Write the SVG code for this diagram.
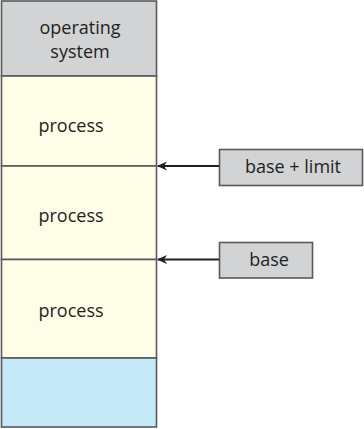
<svg xmlns="http://www.w3.org/2000/svg" width="364" height="429" viewBox="0 0 364 429">
<style>
.blk{stroke:#58595b;stroke-width:1.6}
.t{font-family:"Open Sans","Liberation Sans",sans-serif;font-size:18px;fill:#231f20;text-anchor:middle}
.conn{stroke:#231f20;stroke-width:2;fill:none}
</style>
<defs>
<marker id="ah" viewBox="0 0 10 10" refX="9" refY="5" markerWidth="10" markerHeight="10" markerUnits="userSpaceOnUse" orient="auto">
<path d="M10,5 L0,0.5 L3,5 L0,9.5 Z" fill="#231f20"/>
</marker>
</defs>
<rect x="0" y="0" width="364" height="429" fill="#ffffff"/>
<g id="os">
<rect class="blk" x="1.5" y="1" width="155" height="75" fill="#d1d3d4"/>
<text class="t" x="80" y="34">operating</text>
<text class="t" x="80" y="58">system</text>
</g>
<g id="process1">
<rect class="blk" x="1.5" y="76" width="155" height="90" fill="#fefde8"/>
<text class="t" x="71" y="132">process</text>
</g>
<g id="process2">
<rect class="blk" x="1.5" y="166" width="155" height="93.5" fill="#fefde8"/>
<text class="t" x="71" y="222">process</text>
</g>
<g id="process3">
<rect class="blk" x="1.5" y="259.5" width="155" height="98.5" fill="#fefde8"/>
<text class="t" x="71" y="317">process</text>
</g>
<g id="free">
<rect class="blk" x="1.5" y="358" width="155" height="69" fill="#c6e9f8"/>
</g>
<g id="baselimit">
<rect class="blk" x="219.5" y="149.5" width="143" height="36" fill="#d1d3d4"/>
<text class="t" x="293" y="173">base + limit</text>
</g>
<g id="base">
<rect class="blk" x="219.5" y="242.5" width="93" height="35.5" fill="#d1d3d4"/>
<text class="t" x="269" y="266">base</text>
</g>
<g id="connectors">
<line class="conn" x1="219" y1="166" x2="158" y2="166" marker-end="url(#ah)"/>
<line class="conn" x1="219" y1="259.5" x2="158" y2="259.5" marker-end="url(#ah)"/>
</g>
</svg>
